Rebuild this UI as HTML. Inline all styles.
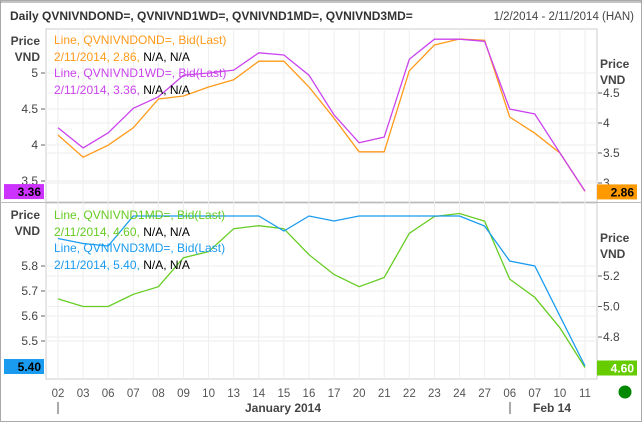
<!DOCTYPE html>
<html><head><meta charset="utf-8"><style>
body{margin:0;background:#fff;font-family:"Liberation Sans",sans-serif;}
svg text{font-family:"Liberation Sans",sans-serif;}
</style></head><body>
<svg id="c" width="642" height="422" xmlns="http://www.w3.org/2000/svg">
<rect x="0.5" y="0.5" width="641" height="421" fill="#fff" stroke="#aaa"/>
<line x1="0" y1="2" x2="642" y2="2" stroke="#888"/>
<text x="10" y="20" font-size="12" font-weight="bold" fill="#333">Daily QVNIVNDOND=, QVNIVND1WD=, QVNIVND1MD=, QVNIVND3MD=</text>
<text x="634" y="20" font-size="11.5" fill="#444" text-anchor="end">1/2/2014 - 2/11/2014 (HAN)</text>
<g id="g"></g>
</svg>
<script>
const categories=["02","03","06","07","08","09","10","13","14","15","16","17","20","21","22","23","24","27","06","07","10","11"];
const ondValues=[3.80,3.43,3.63,3.92,4.40,4.45,4.60,4.72,5.03,5.03,4.60,4.08,3.52,3.52,4.87,5.30,5.40,5.38,4.10,3.83,3.50,2.86];
const w1Values=[4.24,3.96,4.17,4.51,4.67,4.97,5.00,5.04,5.28,5.25,4.97,4.42,4.03,4.11,5.19,5.47,5.47,5.44,4.50,4.43,3.89,3.36];
const m1Values=[5.05,5.00,5.00,5.08,5.13,5.32,5.36,5.51,5.53,5.51,5.34,5.21,5.13,5.19,5.48,5.59,5.61,5.56,5.18,5.06,4.86,4.60];
const m3Values=[5.91,5.89,5.88,6.00,6.00,6.00,6.00,6.00,6.00,5.94,6.00,5.98,6.00,6.00,6.00,6.00,6.00,5.96,5.82,5.80,5.60,5.40];
const topLeftTicks=[5,4.5,4,3.5];
const topRightTicks=[4.5,4,3.5,3];
const botLeftTicks=[5.8,5.7,5.6,5.5];
const botRightTicks=[5.2,5.0,4.8];
const NS="http://www.w3.org/2000/svg";
const g=document.getElementById('g');
function mk(t,a,txt){const e=document.createElementNS(NS,t);for(const k in a)e.setAttribute(k,a[k]);if(txt!==undefined)e.textContent=txt;g.appendChild(e);return e;}
const L=46,R=597,T1=29,B1=202,T2=203,B2=379;
const x=i=>58+i*(585-58)/(categories.length-1);
const yTL=v=>73+(5-v)*72;
const yTR=v=>93+(4.5-v)*60;
const yBL=v=>266+(5.8-v)*250;
const yBR=v=>276+(5.2-v)*152.5;
// plot boxes
let e;
e=mk('rect',{x:L,y:T1,width:R-L,height:B1-T1,fill:'#fff',stroke:'#ccc'});


e=mk('rect',{x:L,y:T2,width:R-L,height:B2-T2,fill:'#fff',stroke:'#ccc'});


e=mk('line',{x1:0,y1:B1+0.5,x2:642,y2:B1+0.5,stroke:'#bbb'});


categories.forEach((c,i)=>{
 e=mk('line',{x1:x(i),y1:T1,x2:x(i),y2:B2,stroke:'#eee'});
 
 
 e=mk('text',{x:x(i),y:397,'font-size':11.5,fill:'#555','text-anchor':'middle'},c);
 
 
});
function ticks(arr,fy,side,name){
 arr.forEach(v=>{
  const y=fy(v);
  e=mk('line',{x1:L,y1:y,x2:R,y2:y,stroke:'#eee'});
  
  
  const lbl=(name.indexOf('bot-left')===0||name.indexOf('bot-right')===0)?v.toFixed(1):String(v);
  if(side==='l'){
   e=mk('line',{x1:L-5,y1:y,x2:L-1,y2:y,stroke:'#666'});
   
   
   e=mk('text',{x:L-8,y:y+4,'font-size':12,fill:'#444','text-anchor':'end'},lbl);
  } else {
   e=mk('line',{x1:R+1,y1:y,x2:R+5,y2:y,stroke:'#666'});
   
   
   e=mk('text',{x:R+6,y:y+4,'font-size':12,fill:'#444'},lbl);
  }
  
  
 });
}
ticks(topLeftTicks,yTL,'l','top-left-tick');
ticks(topRightTicks,yTR,'r','top-right-tick');
ticks(botLeftTicks,yBL,'l','bot-left-tick');
ticks(botRightTicks,yBR,'r','bot-right-tick');
[['Price',T1+14],['VND',T1+30]].forEach(([t,y])=>{
 e=mk('text',{x:40,y:y+10-8,'font-size':12,'font-weight':'bold',fill:'#444','text-anchor':'end'},t);
 
 
 e=mk('text',{x:600,y:y+25,'font-size':12,'font-weight':'bold',fill:'#444'},t);
 
 
 e=mk('text',{x:40,y:y+10-8+174,'font-size':12,'font-weight':'bold',fill:'#444','text-anchor':'end'},t);
 
 
 e=mk('text',{x:600,y:y+25+174,'font-size':12,'font-weight':'bold',fill:'#444'},t);
 
 
});
function line(vals,fy,col,name){
 const d=vals.map((v,i)=>(i?'L':'M')+x(i).toFixed(1)+','+fy(v).toFixed(1)).join(' ');
 e=mk('path',{d:d,fill:'none',stroke:col,'stroke-width':1.3});
 
 
}
line(ondValues,yTR,'#ff9a1a','line-ond');
line(w1Values,yTL,'#cc44ee','line-1wd');
line(m1Values,yBR,'#66cc22','line-1md');
line(m3Values,yBL,'#1a9bf0','line-3md');
function legend(y,col,a,b,name){
 e=mk('text',{x:54,y:y,'font-size':12,fill:col},a);
 
 
 e=mk('text',{x:54,y:y+17,'font-size':12,fill:col},b);
 const t=document.createElementNS(NS,'tspan');t.setAttribute('fill','#000');t.textContent='N/A, N/A';e.appendChild(t);
 
 
}
legend(44,'#ff9a1a','Line, QVNIVNDOND=, Bid(Last)','2/11/2014, 2.86, ','legend-ond');
legend(77,'#cc44ee','Line, QVNIVND1WD=, Bid(Last)','2/11/2014, 3.36, ','legend-1wd');
legend(219,'#66cc22','Line, QVNIVND1MD=, Bid(Last)','2/11/2014, 4.60, ','legend-1md');
legend(252,'#1a9bf0','Line, QVNIVND3MD=, Bid(Last)','2/11/2014, 5.40, ','legend-3md');
function badge(xx,y,col,txt,tc,name){
 e=mk('rect',{x:xx,y:y,width:40,height:15,fill:col});
 
 
 e=mk('text',{x:xx+37,y:y+12,'font-size':12,'font-weight':'bold',fill:tc,'text-anchor':'end'},txt);
 
 
}
badge(4,yTL(w1Values[21])-7,'#cc33ff','3.36','#000','badge-1wd');
badge(597,yTR(ondValues[21])-7,'#ff9900','2.86','#000','badge-ond');
badge(4,yBL(m3Values[21])-7,'#1a9bf0','5.40','#000','badge-3md');
badge(597,yBR(m1Values[21])-7,'#66cc00','4.60','#fff','badge-1md');
e=mk('text',{x:283,y:412,'font-size':12,'font-weight':'bold',fill:'#444','text-anchor':'middle'},'January 2014');


e=mk('text',{x:552,y:412,'font-size':12,'font-weight':'bold',fill:'#444','text-anchor':'middle'},'Feb 14');


[58,510].forEach(xx=>{
 e=mk('line',{x1:xx,y1:402,x2:xx,y2:414,stroke:'#555'});
 
 
});
e=mk('circle',{cx:625,cy:392,r:6.5,fill:'#008800'});


</script>
</body></html>
